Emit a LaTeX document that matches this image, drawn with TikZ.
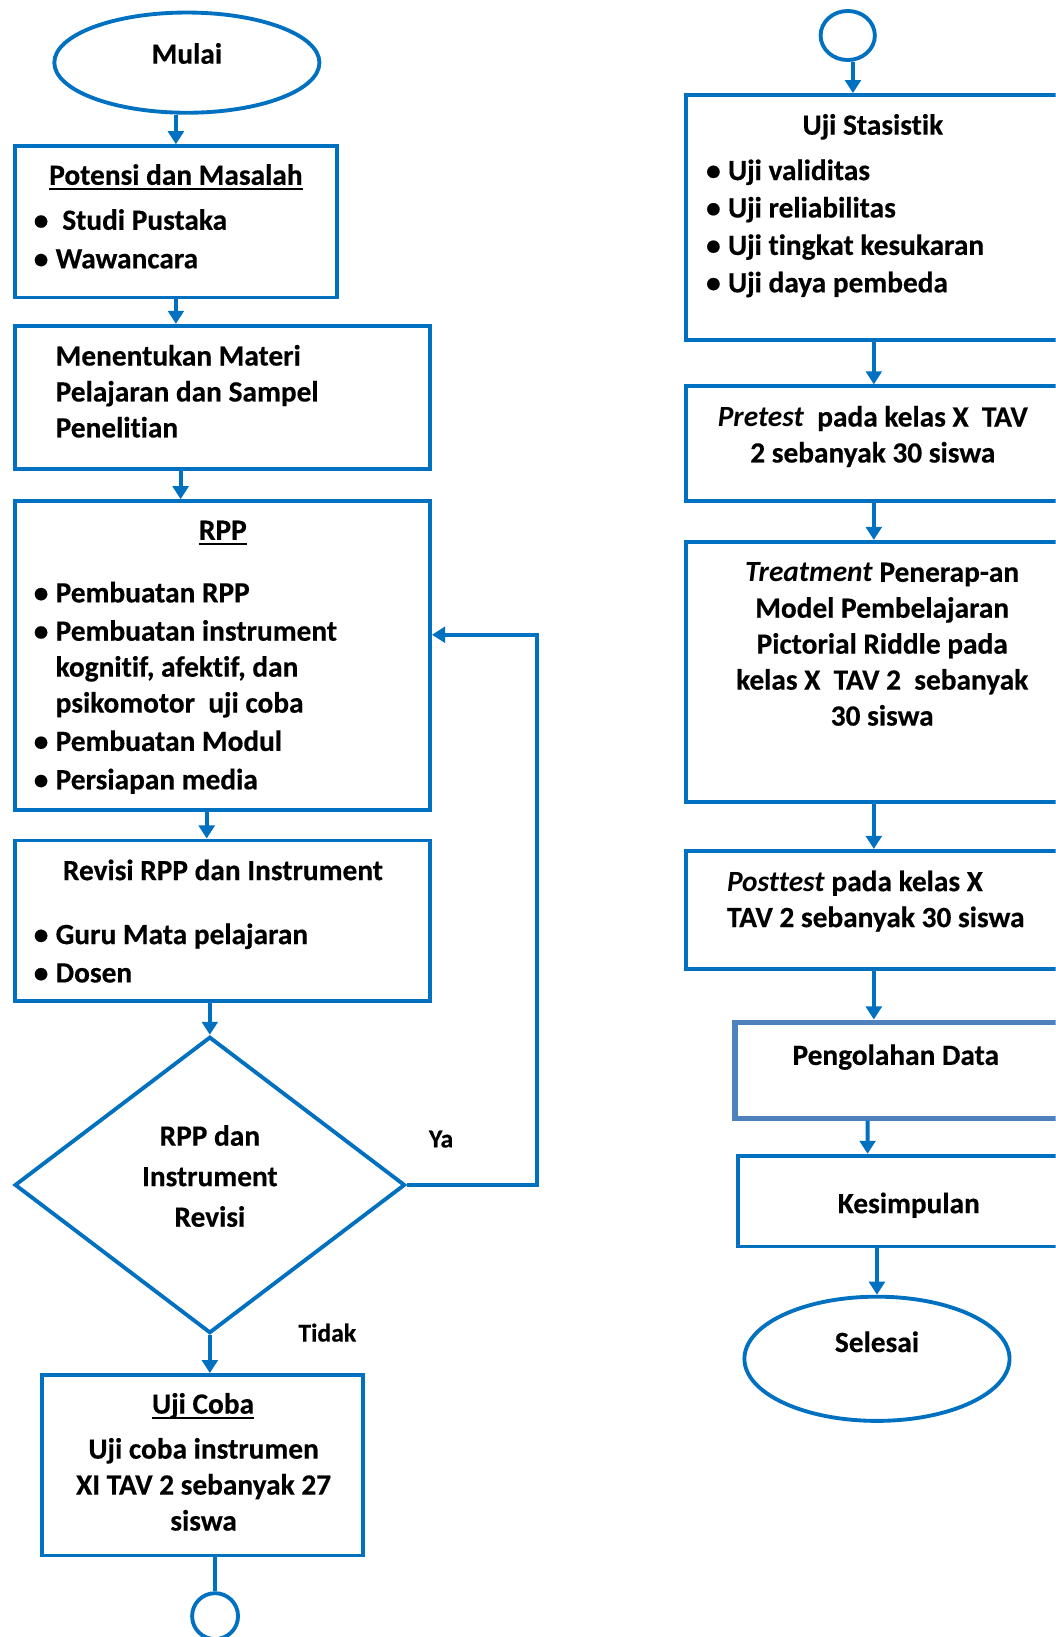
\documentclass[tikz,border=0pt]{standalone}
\usepackage{fontspec}
\setmainfont{Carlito}[Ligatures=CommonOff, BoldFeatures={FakeBold=0.4}]
\usepackage{tikz}
\usetikzlibrary{arrows.meta,calc,shapes.geometric}
\definecolor{FlowBlue}{HTML}{0070C0}
\definecolor{DataBlue}{HTML}{4F81BD}
\newsavebox{\ulbox}
\newcommand{\uln}[1]{\sbox{\ulbox}{#1}\rlap{\rule[-2.8pt]{\wd\ulbox}{1.2pt}}\usebox{\ulbox}}
\newcommand{\bul}{\llap{\textbullet\hspace{4pt}}}

\begin{document}
\begin{tikzpicture}[x=0.02cm, y=-0.02cm, >={Triangle[width=0.3cm,length=0.25cm]},
    font=\bfseries\fontsize{16}{19.6}\selectfont,
    box/.style={draw=FlowBlue, line width=2.1pt, rectangle, inner sep=0pt},
    term/.style={draw=FlowBlue, line width=2.1pt, ellipse, inner sep=0pt},
    txt/.style={inner sep=0pt},
    small/.style={inner sep=0pt, font=\bfseries\fontsize{14}{17}\selectfont},
    flow/.style={->, draw=FlowBlue, line width=2.1pt}]
    % Page
    \useasboundingbox (0,0) rectangle (1011,1568);
    \fill[white] (0,0) rectangle (1011,1568);
    \clip (0,0) rectangle (1011,1568);

    % Start
    \node[term, minimum width=5.08cm, minimum height=1.92cm] (mulai) at (179,60) {};
    \node[txt, anchor=base] (mulaiT) at (179,61) {Mulai};

    % Potensi dan Masalah (multi-line texts sit on their last line)
    \node[box, minimum width=6.18cm, minimum height=2.9cm] (potensi) at (168.5,212.5) {};
    \node[txt, anchor=base] (potensiT) at (168.5,177) {\uln{Potensi dan Masalah}};
    \node[txt, anchor=base west, align=left] (potensiL) at (53,257) {\bul\ Studi Pustaka\\[1.4pt]\bul Wawancara};

    % Materi dan sampel
    \node[box, minimum width=7.96cm, minimum height=2.74cm] (materi) at (213,380.5) {};
    \node[txt, anchor=base west, align=left] (materiT) at (53,419) {Menentukan Materi\\Pelajaran dan Sampel\\Penelitian};

    % RPP
    \node[box, minimum width=7.96cm, minimum height=5.92cm] (rpp) at (213,628) {};
    \node[txt, anchor=base] (rppT) at (213.5,517) {\uln{RPP}};
    \node[txt, anchor=base west, align=left] (rppL) at (53,756) {\bul Pembuatan RPP\\[1.3pt]\bul Pembuatan instrument\\kognitif, afektif, dan\\psikomotor\ \ uji coba\\[1.3pt]\bul Pembuatan Modul\\[1.3pt]\bul Persiapan media};

    % Revisi
    \node[box, minimum width=7.96cm, minimum height=3.08cm] (revisi) at (213,882) {};
    \node[txt, anchor=base] (revisiT) at (213.5,843) {Revisi RPP dan Instrument};
    \node[txt, anchor=base west, align=left] (revisiL) at (53,941) {\bul Guru Mata pelajaran\\[1.3pt]\bul Dosen};

    % Decision
    \node[draw=FlowBlue, line width=2.1pt, diamond, inner sep=0pt, minimum width=7.48cm, minimum height=5.68cm] (dia) at (201,1135) {};
    \node[txt, anchor=base, align=center] (diaT) at (201,1175) {RPP dan\\[2.5pt]Instrument\\[2.5pt]Revisi};
    \node[small, anchor=base] (ya) at (422.5,1099) {Ya};
    \node[small, anchor=base] (tidak) at (313.5,1285) {Tidak};

    % Uji coba
    \node[box, minimum width=6.16cm, minimum height=3.46cm] (coba) at (194,1403.5) {};
    \node[txt, anchor=base] (cobaT) at (194.5,1354) {\uln{Uji Coba}};
    \node[txt, anchor=base, align=center] (cobaL) at (195,1466) {Uji coba instrumen\\XI TAV 2 sebanyak 27\\siswa};
    \node[draw=FlowBlue, line width=2.1pt, circle, inner sep=0pt, minimum size=0.88cm] (con1) at (206,1548) {};

    % Right column
    \node[term, minimum width=1.04cm, minimum height=0.94cm] (con2) at (812,34) {};
    \node[box, minimum width=7.2cm, minimum height=4.7cm] (stat) at (837,208.5) {};
    \node[txt, anchor=base] (statT) at (836,129) {Uji Stasistik};
    \node[txt, anchor=base west, align=left] (statL) at (697,280) {\bul Uji validitas\\[0.8pt]\bul Uji reliabilitas\\[0.8pt]\bul Uji tingkat kesukaran\\[0.8pt]\bul Uji daya pembeda};

    \node[box, minimum width=7.2cm, minimum height=2.2cm] (pre) at (837,425) {};
    \node[txt, anchor=base, align=center] (preT) at (836,443) {\textit{Pretest}\ \ pada kelas X\ \ TAV\\2 sebanyak 30 siswa};

    \node[box, minimum width=7.2cm, minimum height=4.98cm] (treat) at (837,643.5) {};
    \node[txt, anchor=base, align=center] (treatT) at (845,695) {\textit{Treatment} Penerap-an\\Model Pembelajaran\\Pictorial Riddle pada\\kelas X\ \ TAV 2\ \ sebanyak\\30 siswa};

    \node[box, minimum width=7.2cm, minimum height=2.26cm] (post) at (837,871.5) {};
    \node[txt, anchor=base west, align=left] (postT) at (696,888) {\textit{Posttest} pada kelas X\\TAV 2 sebanyak 30 siswa};

    \node[box, draw=DataBlue, line width=2.8pt, minimum width=6.26cm, minimum height=1.84cm] (olah) at (860.5,1025) {};
    \node[txt, anchor=base] (olahT) at (858,1020) {Pengolahan Data};

    \node[box, minimum width=6.2cm, minimum height=1.74cm] (kes) at (862,1150.5) {};
    \node[txt, anchor=base] (kesT) at (870.5,1162) {Kesimpulan};

    \node[term, minimum width=5.08cm, minimum height=2.38cm] (sel) at (840,1301.5) {};
    \node[txt, anchor=base] (selT) at (840,1295) {Selesai};

    % Arrows, left
    \draw[flow] (mulai.south -| potensi.north) -- (potensi.north);
    \draw[flow] (potensi.south) -- (potensi.south |- materi.north);
    \draw[flow] ([xshift=-0.8cm]materi.south) -- ([xshift=-0.8cm]rpp.north);
    \draw[flow] ([xshift=-0.3cm]rpp.south) -- ([xshift=-0.3cm]revisi.north);
    \draw[flow] (revisi.south -| dia.north) -- (dia.north);
    \draw[flow] (dia.south) -- (dia.south |- coba.north);
    \draw[draw=FlowBlue, line width=2.1pt] (coba.south -| con1.north) -- (con1.north);
    % Ya: back to RPP
    \coordinate (back) at (514,608);
    \draw[flow] (dia.east) -| (back) -- (rpp.east |- back);

    % Arrows, right
    \draw[flow] ([xshift=0.1cm]con2.south) -- ([xshift=-0.4cm]stat.north);
    \draw[flow] (stat.south) -- (pre.north);
    \draw[flow] (pre.south) -- (treat.north);
    \draw[flow] (treat.south) -- (post.north);
    \draw[flow] (post.south) -- (post.south |- olah.north);
    \draw[flow] ([xshift=-0.59cm]olah.south) -- ([xshift=-0.62cm]kes.north);
    \draw[flow] (sel.north |- kes.south) -- (sel.north);
\end{tikzpicture}
\end{document}
